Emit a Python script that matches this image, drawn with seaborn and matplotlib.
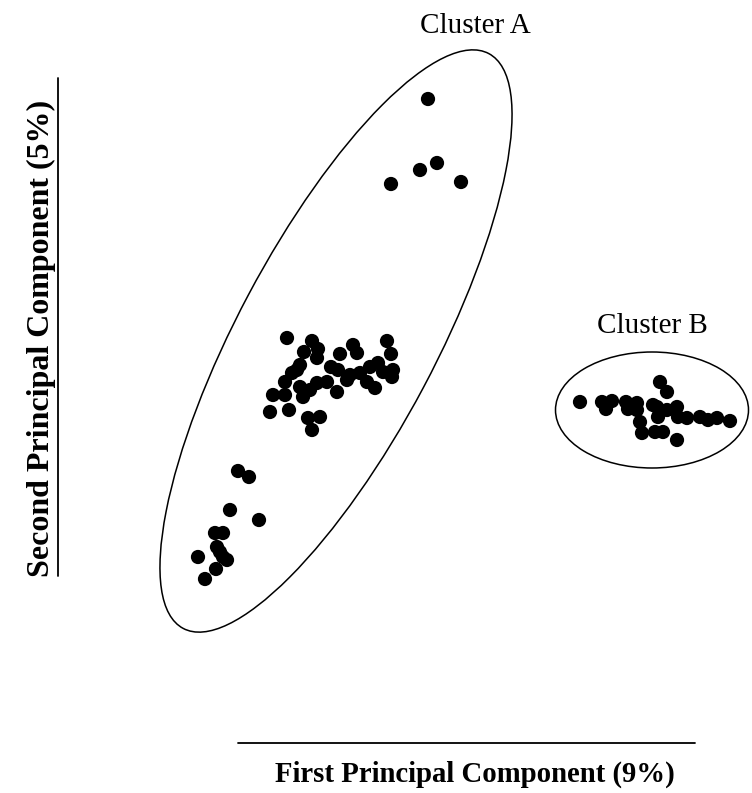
import numpy as np
import pandas as pd
import matplotlib
matplotlib.use("Agg")
import matplotlib.pyplot as plt
import seaborn as sns
from matplotlib.patches import Ellipse

# Scores on the two principal components (arbitrary units)
pc1_a = [428, 391, 420, 437, 461,
         287, 312, 318, 304, 317, 340, 353, 357, 387, 391, 300, 292, 331, 338,
         350, 360, 370, 378, 393, 392, 285, 273, 285, 300, 303, 317, 327, 337,
         367, 375, 270, 289, 308, 320, 312, 297, 310, 347, 383,
         238, 249, 230, 259, 215, 223, 217, 220, 223, 227, 198, 216, 205]
pc2_a = [99, 184, 170, 163, 182,
         338, 341, 349, 352, 358, 354, 345, 353, 341, 354, 365, 373, 367, 370,
         375, 373, 367, 363, 370, 377, 382, 395, 395, 387, 397, 383, 382, 392,
         382, 388, 412, 410, 418, 417, 430, 370, 390, 380, 372,
         471, 477, 510, 520, 533, 533, 547, 552, 557, 560, 557, 569, 579]

pc1_b = [580, 602, 606, 612, 626, 628, 637, 640, 642, 655, 663, 660, 667,
         653, 658, 667, 677, 678, 687, 700, 708, 717, 730, 677, 657, 637]
pc2_b = [402, 402, 409, 401, 402, 409, 403, 422, 433, 432, 432, 382, 392,
         405, 417, 410, 407, 417, 418, 417, 420, 418, 421, 440, 407, 410]

cluster_names = ["Cluster A", "Cluster B"]
x_label = "First Principal Component (9%)"
y_label = "Second Principal Component (5%)"

df = pd.DataFrame({
    "PC1": pc1_a + pc1_b,
    "PC2": pc2_a + pc2_b,
    "cluster": [cluster_names[0]] * len(pc1_a) + [cluster_names[1]] * len(pc1_b),
})

sns.set_theme(style="white")
plt.rcParams["font.family"] = ["Liberation Serif", "DejaVu Serif"]
plt.rcParams["text.color"] = "black"

fig = plt.figure(figsize=(7.52, 7.93), dpi=100)
ax = fig.add_axes([0, 0, 1, 1])
sns.scatterplot(data=df, x="PC1", y="PC2", hue="cluster",
                palette={cluster_names[0]: "black", cluster_names[1]: "black"},
                s=105, edgecolor="none", legend=False, ax=ax)
ax.set_xlim(0, 752)
ax.set_ylim(793, 0)
ax.axis("off")

# cluster ellipses
ax.add_patch(Ellipse((336, 341), 651, 198, angle=-62, fill=False,
                     edgecolor="black", lw=1.1))
ax.add_patch(Ellipse((652, 410), 193, 116, angle=0, fill=False,
                     edgecolor="black", lw=1.1))

ax.text(475, 33, cluster_names[0], ha="center", va="baseline", fontsize=21,
        color="black")
ax.text(652, 333, cluster_names[1], ha="center", va="baseline", fontsize=21,
        color="black")

# axis indicator lines
ax.plot([238, 695], [743, 743], color="black", lw=1.3)
ax.plot([58, 58], [78, 576], color="black", lw=1.3)

ax.text(475, 782, x_label, ha="center", va="baseline", fontsize=20.7,
        fontweight="bold", color="black")
ax.text(49, 338, y_label, ha="center", va="baseline", fontsize=23,
        fontweight="bold", rotation=90, rotation_mode="anchor", color="black")

fig.savefig("out.png", dpi=100)
